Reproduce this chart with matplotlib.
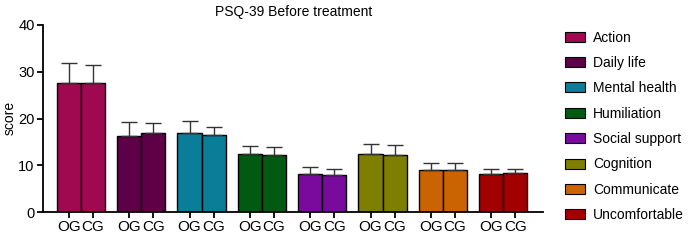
import matplotlib
matplotlib.use("Agg")
import matplotlib.pyplot as plt
from matplotlib.patches import Patch
import numpy as np

plt.rcParams["font.family"] = ["Liberation Sans", "DejaVu Sans"]

categories = ["Action", "Daily life", "Mental health", "Humiliation",
              "Social support", "Cognition", "Communicate", "Uncomfortable"]
og_mean = [27.7, 16.3, 17.0, 12.4, 8.2, 12.3, 9.0, 8.1]
og_err = [4.1, 3.0, 2.5, 1.8, 1.4, 2.2, 1.5, 1.1]
cg_mean = [27.6, 16.8, 16.5, 12.2, 7.9, 12.2, 9.0, 8.3]
cg_err = [3.9, 2.2, 1.7, 1.7, 1.2, 2.1, 1.4, 0.9]
colors = ["#A0084F", "#5E0048", "#0A7D98", "#005A12",
          "#7A0A9E", "#7E7E00", "#C96400", "#A20000"]

fig = plt.figure(figsize=(6.88, 2.42), dpi=100)
ax = fig.add_axes([43 / 688, 30 / 242, 500 / 688, 187 / 242])

x = np.arange(len(categories))
w = 0.4
for i in range(len(categories)):
    for pos, m, e in ((x[i] - w / 2, og_mean[i], og_err[i]),
                      (x[i] + w / 2, cg_mean[i], cg_err[i])):
        ax.bar(pos, m, width=w, color=colors[i], edgecolor="black", linewidth=1)
        ax.errorbar(pos, m, yerr=[[0], [e]], fmt="none", ecolor="#333333",
                    elinewidth=1, capsize=5.5, capthick=1)

ticks = np.concatenate([x - w / 2, x + w / 2])
labels = ["OG"] * len(x) + ["CG"] * len(x)
ax.set_xticks(ticks)
ax.set_xticklabels(labels, fontsize=11)
ax.set_xlim(-0.63, 7.66)
ax.set_ylim(0, 40)
ax.set_yticks([0, 10, 20, 30, 40])
ax.tick_params(axis="y", labelsize=10.5, width=1.3, length=4, pad=2)
ax.tick_params(axis="x", width=1.3, length=4, pad=2)
for s in ("top", "right"):
    ax.spines[s].set_visible(False)
for s in ("left", "bottom"):
    ax.spines[s].set_linewidth(1.3)

fig.text(10 / 688, 1 - 118 / 242, "score", rotation=90, ha="center",
         va="center", fontsize=10)
fig.text(294 / 688, 1 - 12 / 242, "PSQ-39 Before treatment", ha="center",
         va="center", fontsize=10)

handles = [Patch(facecolor=c, edgecolor="black", linewidth=0.8) for c in colors]
fig.legend(handles, categories, loc="upper left",
           bbox_to_anchor=(552 / 688, 1 - 18 / 242), frameon=False,
           fontsize=10, handlelength=1.5, handleheight=0.72,
           labelspacing=0.82, handletextpad=0.55)

fig.savefig("out.png", dpi=100)
